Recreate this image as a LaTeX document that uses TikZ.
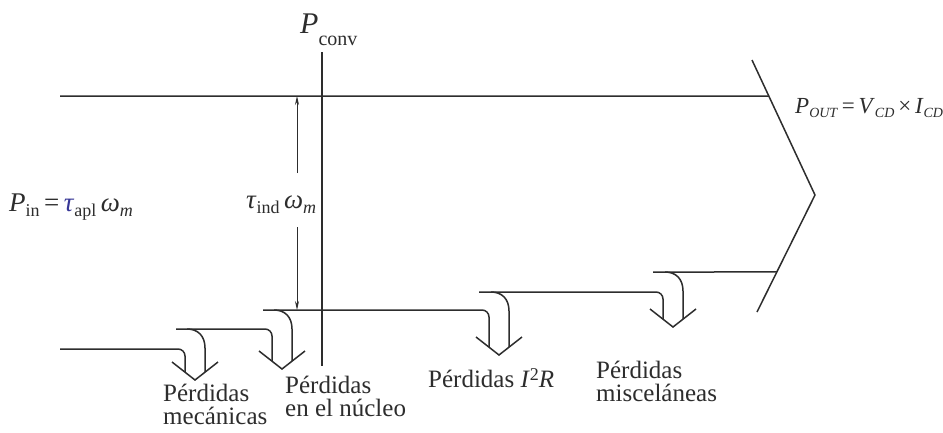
\documentclass[tikz,border=0pt]{standalone}
\usepackage{fontspec}
\setmainfont{Liberation Serif}
\usetikzlibrary{arrows.meta,calc}
\definecolor{ink}{RGB}{45,45,45}
\definecolor{taublue}{RGB}{55,55,150}
\newcommand\mysub[2][-5pt]{\raisebox{#1}{\fontsize{18}{18}\selectfont #2}}
\newcommand\outsub[1]{\raisebox{-4pt}{\fontsize{14}{14}\selectfont\textit{#1}}}
\newcommand\lossarrow[3]{%
  \draw[flow] (#1+2,#2) .. controls (#1+13,#2) and (#1+20,#2+7) .. (#1+20,#2+19) -- (#1+20,#3-8);
  \draw[flow] (#1-13,#3-18) -- (#1+10,#3) -- (#1+33,#3-18);
}
\begin{document}
\begin{tikzpicture}[x=1pt,y=-1pt,
  flow/.style={draw=ink,line width=1.5pt},
  dim/.style={draw=ink,line width=0.9pt,-{Stealth[length=9pt,width=4pt]}},
  lbl/.style={inner sep=0pt,text=ink,font=\fontsize{25}{23}\selectfont,align=left},
  math/.style={inner sep=0pt,text=ink,font=\fontsize{27}{27}\selectfont}]
\useasboundingbox[fill=white] (0,0) rectangle (943,432);

% output chevron
\coordinate (A1) at (752,60);
\coordinate (T)  at (815,195);
\coordinate (A2) at (757,312);
\draw[flow] (A1) -- (T) -- (A2);

% top boundary
\coordinate (topL) at (60,96);
\draw[flow] (topL) -- ($(A1)!0.2667!(T)$);

% stepped bottom boundary
\draw[flow,rounded corners=7pt] (60,349) -- (185,349) -- (185,372);
\draw[flow,rounded corners=7pt] (176,329) -- (272,329) -- (272,361);
\draw[flow,rounded corners=7pt] (263,310) -- (489,310) -- (489,347);
\draw[flow,rounded corners=7pt] (479,292) -- (663,292) -- (663,319);
\draw[flow] (653,272) -- ($(T)!0.658!(A2)$);

% loss arrows
\lossarrow{185}{329}{380}
\lossarrow{272}{310}{369}
\lossarrow{489}{292}{355}
\lossarrow{663}{272}{327}

% P_conv line
\coordinate (cvtop) at (322,52);
\coordinate (cvbot) at (322,366);
\draw[flow] (cvtop) -- (cvbot);

% dimension arrow
\coordinate (dimtop) at (297,96);
\coordinate (dimbot) at (297,310);
\coordinate (dimu) at (297,173);
\coordinate (diml) at (297,227);
\draw[dim] (dimu) -- (dimtop);
\draw[dim] (diml) -- (dimbot);

% labels
\node[math,anchor=base west] (pin) at (9,211)
  {\textit{P}\mysub{in}\,=\,{\color{taublue}\textit{τ}}\mysub{apl}\,\textit{ω}\mysub{\textit{m}}};
\node[math,anchor=base west] (tind) at (246,208)
  {\textit{τ}\mysub{ind}\,\textit{ω}\mysub{\textit{m}}};
\node[math,anchor=base west,font=\fontsize{30}{30}\selectfont] (pconv) at (300,33)
  {\textit{P}\raisebox{-12pt}{\fontsize{20}{20}\selectfont conv}};
\node[math,anchor=base west,font=\fontsize{23}{23}\selectfont] (pout) at (795,113)
  {\textit{P}\outsub{OUT}\,=\,\textit{V}\outsub{CD}\,×\,\textit{I}\outsub{CD}};

\node[lbl,anchor=north west] (mec) at (163,384) {Pérdidas\\mecánicas};
\node[lbl,anchor=north west] (nuc) at (285,376) {Pérdidas\\en el núcleo};
\node[lbl,anchor=base west] (cu) at (428,387) {Pérdidas \textit{I}\raisebox{7pt}{\fontsize{18}{18}\selectfont 2}\textit{R}};
\node[lbl,anchor=north west] (misc) at (596,361) {Pérdidas\\misceláneas};
\end{tikzpicture}
\end{document}
